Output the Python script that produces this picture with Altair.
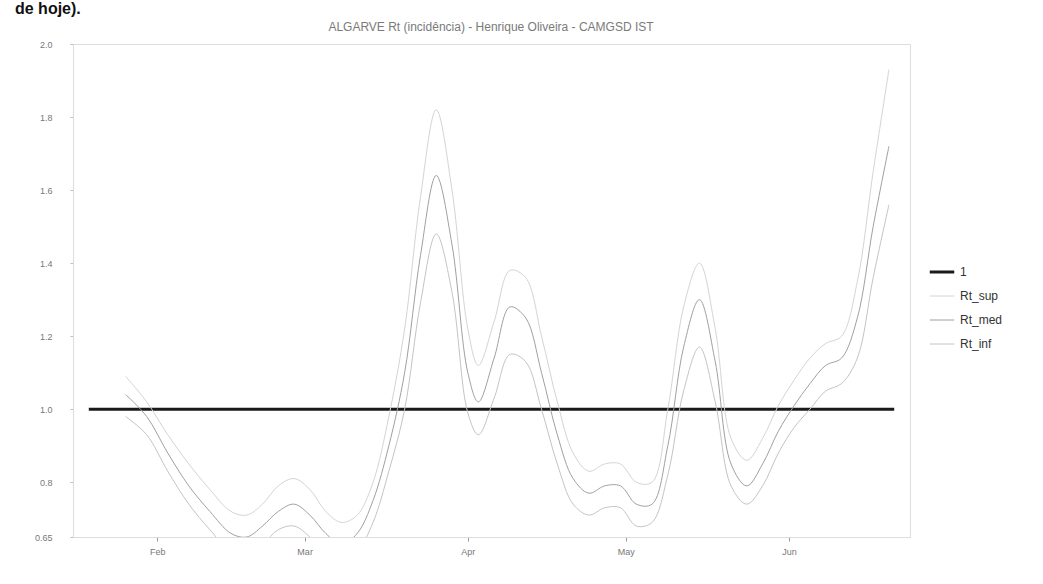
import altair as alt
import pandas as pd

# Rt estimates for the Algarve region (incidence based), sampled every few days
dates = [
    "2021-01-26", "2021-01-30", "2021-02-03", "2021-02-07", "2021-02-11",
    "2021-02-15", "2021-02-18", "2021-02-21", "2021-02-24", "2021-02-27",
    "2021-03-02", "2021-03-05", "2021-03-08", "2021-03-11", "2021-03-14",
    "2021-03-17", "2021-03-20", "2021-03-23", "2021-03-26", "2021-03-29",
    "2021-04-01", "2021-04-03", "2021-04-06", "2021-04-09", "2021-04-12",
    "2021-04-15", "2021-04-18", "2021-04-21", "2021-04-24", "2021-04-27",
    "2021-04-30", "2021-05-03", "2021-05-06", "2021-05-09", "2021-05-12",
    "2021-05-15", "2021-05-18", "2021-05-21", "2021-05-24", "2021-05-27",
    "2021-05-30", "2021-06-02", "2021-06-05", "2021-06-08", "2021-06-11",
    "2021-06-14", "2021-06-17", "2021-06-20",
]
rt_sup = [
    1.09, 1.02, 0.93, 0.85, 0.78, 0.72, 0.71, 0.74, 0.79, 0.81,
    0.78, 0.72, 0.69, 0.71, 0.80, 0.98, 1.22, 1.58, 1.82, 1.60,
    1.22, 1.12, 1.24, 1.38, 1.36, 1.20, 1.02, 0.88, 0.83, 0.85,
    0.85, 0.80, 0.80, 1.00, 1.28, 1.40, 1.22, 0.92, 0.86, 0.92,
    1.01, 1.08, 1.14, 1.18, 1.20, 1.35, 1.65, 1.93,
]
rt_med = [
    1.04, 0.98, 0.88, 0.79, 0.72, 0.66, 0.65, 0.68, 0.72, 0.74,
    0.71, 0.66, 0.63, 0.66, 0.75, 0.90, 1.10, 1.42, 1.64, 1.45,
    1.10, 1.02, 1.14, 1.28, 1.25, 1.10, 0.93, 0.81, 0.77, 0.79,
    0.79, 0.74, 0.74, 0.90, 1.17, 1.30, 1.13, 0.85, 0.79, 0.85,
    0.94, 1.01, 1.07, 1.12, 1.14, 1.25, 1.50, 1.72,
]
rt_inf = [
    0.98, 0.93, 0.83, 0.74, 0.67, 0.61, 0.60, 0.63, 0.67, 0.68,
    0.65, 0.60, 0.58, 0.61, 0.69, 0.83, 1.00, 1.29, 1.48, 1.32,
    0.99, 0.93, 1.03, 1.15, 1.13, 1.00, 0.85, 0.74, 0.71, 0.73,
    0.73, 0.68, 0.69, 0.82, 1.05, 1.17, 1.02, 0.79, 0.74, 0.79,
    0.88, 0.95, 1.00, 1.05, 1.07, 1.14, 1.36, 1.56,
]

# Reference level Rt = 1
one_dates = ["2021-01-19", "2021-06-21"]
one_values = [1.0, 1.0]

series_names = ["1", "Rt_sup", "Rt_med", "Rt_inf"]
series_colors = ["#1a1a1a", "#d4d4d4", "#a0a0a0", "#c4c4c4"]
series_widths = [3, 1, 1, 1]
y_ticks = [0.65, 0.8, 1.0, 1.2, 1.4, 1.6, 1.8, 2.0]

title_text = "ALGARVE Rt (incidência) - Henrique Oliveira - CAMGSD IST"
heading_text = "de hoje)."

rows = []
for d, v in zip(one_dates, one_values):
    rows.append({"date": d, "value": v, "series": "1"})
for name, vals in (("Rt_sup", rt_sup), ("Rt_med", rt_med), ("Rt_inf", rt_inf)):
    for d, v in zip(dates, vals):
        rows.append({"date": d, "value": v, "series": name})
df = pd.DataFrame(rows)

x_enc = alt.X(
    "date:T",
    title=None,
    scale=alt.Scale(domain=["2021-01-16", "2021-06-24"]),
    axis=alt.Axis(
        format="%b", tickCount="month", grid=False,
        labelColor="#777", labelFontSize=9, labelPadding=6,
        domainColor="#dddddd", tickColor="#999", tickSize=4,
    ),
)
y_enc = alt.Y(
    "value:Q",
    title=None,
    scale=alt.Scale(domain=[0.65, 2.0], nice=False, zero=False),
    axis=alt.Axis(
        values=y_ticks, grid=False,
        labelExpr="datum.value < 0.7 ? '0.65' : format(datum.value, '.1f')",
        labelColor="#777", labelFontSize=9, labelPadding=18,
        domainColor="#dddddd", tickColor="#bbb", tickSize=3,
    ),
)

legend = alt.Legend(
    title=None, orient="none", legendX=855, legendY=214,
    symbolType="stroke", symbolSize=600, rowPadding=5,
    labelFontSize=12, labelColor="#333", labelFont="Liberation Sans",
)

lines = alt.Chart(df).mark_line(interpolate="catmull-rom", clip=True).encode(
    x=x_enc,
    y=y_enc,
    color=alt.Color("series:N", sort=series_names,
                    scale=alt.Scale(domain=series_names, range=series_colors),
                    legend=legend),
    strokeWidth=alt.StrokeWidth("series:N", sort=series_names,
                                scale=alt.Scale(type="ordinal", domain=series_names,
                                                range=series_widths),
                                legend=legend),
    order=alt.Order("date:T"),
)

# Chart heading, centred over the plot area
title_mark = alt.Chart(pd.DataFrame({"t": [title_text]})).mark_text(
    align="center", baseline="alphabetic", fontSize=12,
    font="Liberation Sans", color="#7a7a7a",
).encode(text="t:N", x=alt.value(418), y=alt.value(-13))

# Tail of the surrounding caption text
heading = alt.Chart(pd.DataFrame({"t": [heading_text]})).mark_text(
    align="left", baseline="alphabetic", fontSize=16, fontWeight="bold",
    font="Liberation Sans", color="#111",
).encode(text="t:N", x=alt.value(-58), y=alt.value(-30))

chart = alt.layer(lines, title_mark, heading).properties(
    width=837,
    height=493,
    autosize=alt.AutoSizeParams(type="none"),
    padding={"left": 73, "top": 44, "right": 133, "bottom": 47},
).configure_view(stroke="#eeeeee", strokeWidth=1).configure(background="white")

chart.save("out.html", embed_options={"renderer": "svg", "actions": False})
